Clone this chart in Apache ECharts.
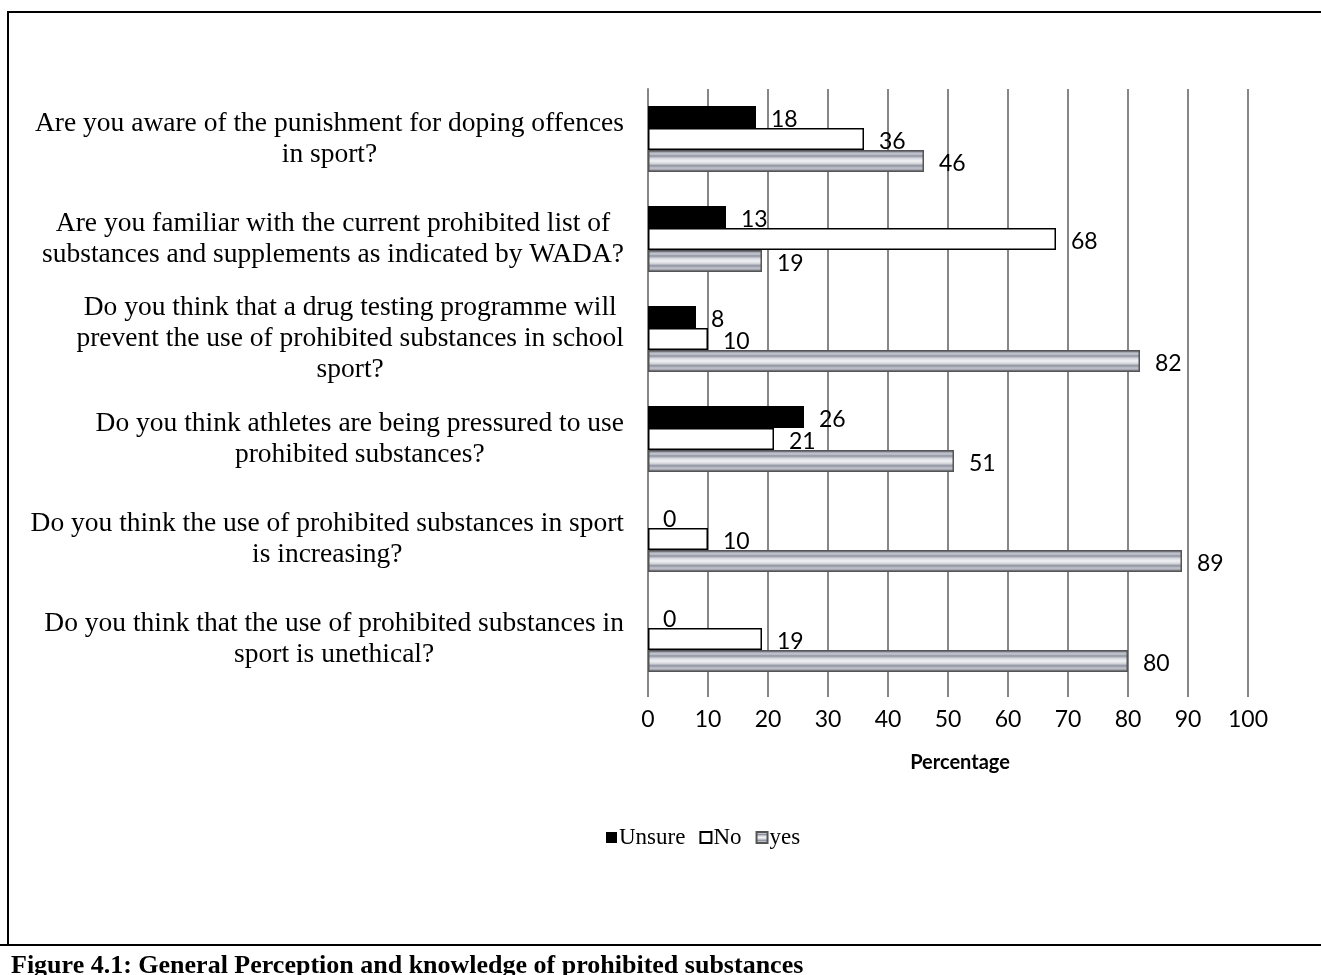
<!DOCTYPE html>
<html><head><meta charset="utf-8">
<script src="https://cdn.jsdelivr.net/npm/echarts@6/dist/echarts.min.js"></script>
<style>html,body{margin:0;padding:0;background:#fff}#c{width:1321px;height:975px}</style>
</head><body><div id="c"></div>
<script>
const categories = [
  "Are you aware of the punishment for doping offences\nin sport?",
  "Are you familiar with the current prohibited list of\nsubstances and supplements as indicated by WADA?",
  "Do you think that a drug testing programme will\nprevent the use of prohibited substances in school\nsport?",
  "Do you think athletes are being pressured to use\nprohibited substances?",
  "Do you think the use of prohibited substances in sport\nis increasing?",
  "Do you think that the use of prohibited substances in\nsport is unethical?"
];
const seriesNames = ["Unsure", "No", "yes"];
const unsure = [18, 13, 8, 26, 0, 0];
const no = [36, 68, 10, 21, 10, 19];
const yes = [46, 19, 82, 51, 89, 80];
const xMin = 0, xMax = 100, xStep = 10;
const axisTitle = "Percentage";
const caption = "Figure 4.1: General Perception and knowledge of prohibited substances";

const chart = echarts.init(document.getElementById('c'), null, {renderer: 'canvas'});
const serif = "'Liberation Serif', 'Times New Roman', serif";
const sans = "Lato, 'Open Sans', sans-serif";

const stripe = new echarts.graphic.LinearGradient(0, 0, 0, 1, [
  {offset: 0, color: '#6c6f7c'},
  {offset: 0.09, color: '#9a9eab'},
  {offset: 0.18, color: '#c9cbd3'},
  {offset: 0.27, color: '#8e929f'},
  {offset: 0.38, color: '#d6d8de'},
  {offset: 0.5, color: '#f2f2f5'},
  {offset: 0.62, color: '#d2d4da'},
  {offset: 0.72, color: '#8d919e'},
  {offset: 0.82, color: '#c4c6ce'},
  {offset: 0.91, color: '#9a9eab'},
  {offset: 1, color: '#6c6f7c'}
]);

const labelCfg = {
  show: true, position: 'right', distance: 15, offset: [0, 3],
  color: '#000', fontFamily: sans, fontSize: 23
};

chart.setOption({
  animation: false,
  backgroundColor: '#fff',
  title: {
    text: caption, left: 6, top: 948,
    textStyle: {fontFamily: serif, fontWeight: 'bold', fontSize: 26, color: '#000'}
  },
  legend: {
    data: seriesNames, left: 601, top: 821, icon: 'rect',
    itemWidth: 11, itemHeight: 11, itemGap: 14,
    textStyle: {fontFamily: serif, fontSize: 23, color: '#000', padding: [0, 0, 0, -3]}
  },
  grid: {left: 648, right: 73, top: 89, bottom: 286},
  xAxis: {
    type: 'value', min: xMin, max: xMax, interval: xStep,
    name: axisTitle, nameLocation: 'middle', nameGap: 64,
    nameTextStyle: {fontFamily: sans, fontWeight: 'bold', fontSize: 20, color: '#000', padding: [0, 0, 0, 24]},
    axisLine: {show: false},
    axisTick: {show: true, length: 8, lineStyle: {color: '#868686', width: 2}},
    axisLabel: {margin: 19, fontFamily: sans, fontSize: 23, color: '#000'},
    splitLine: {show: true, lineStyle: {color: '#868686', width: 2}}
  },
  yAxis: {
    type: 'category', data: categories, inverse: true,
    axisLine: {show: true, lineStyle: {color: '#868686', width: 2}},
    axisTick: {show: false},
    axisLabel: {
      margin: 24, color: '#000',
      formatter: v => v.split('\n').map(l => '{c|' + l + '}').join('\n'),
      rich: {c: {align: 'center', fontFamily: serif, fontSize: 27.5, lineHeight: 31, color: '#000'}}
    }
  },
  series: [
    {name: seriesNames[0], type: 'bar', data: unsure, barGap: '0%', barCategoryGap: '34%',
     itemStyle: {color: '#000', borderWidth: 0}, label: labelCfg},
    {name: seriesNames[1], type: 'bar', data: no, barGap: '0%', barCategoryGap: '34%',
     itemStyle: {color: '#fff', borderColor: '#000', borderWidth: 1.5}, label: labelCfg},
    {name: seriesNames[2], type: 'bar', data: yes, barGap: '0%', barCategoryGap: '34%',
     itemStyle: {color: stripe, borderColor: '#555', borderWidth: 1.5}, label: labelCfg}
  ],
  graphic: [
    {type: 'line', shape: {x1: 8, y1: 12, x2: 1321, y2: 12}, style: {stroke: '#000', lineWidth: 2}},
    {type: 'line', shape: {x1: 8, y1: 11, x2: 8, y2: 945}, style: {stroke: '#000', lineWidth: 2}},
    {type: 'line', shape: {x1: 0, y1: 945, x2: 1321, y2: 945}, style: {stroke: '#000', lineWidth: 2}}
  ]
});
</script></body></html>
